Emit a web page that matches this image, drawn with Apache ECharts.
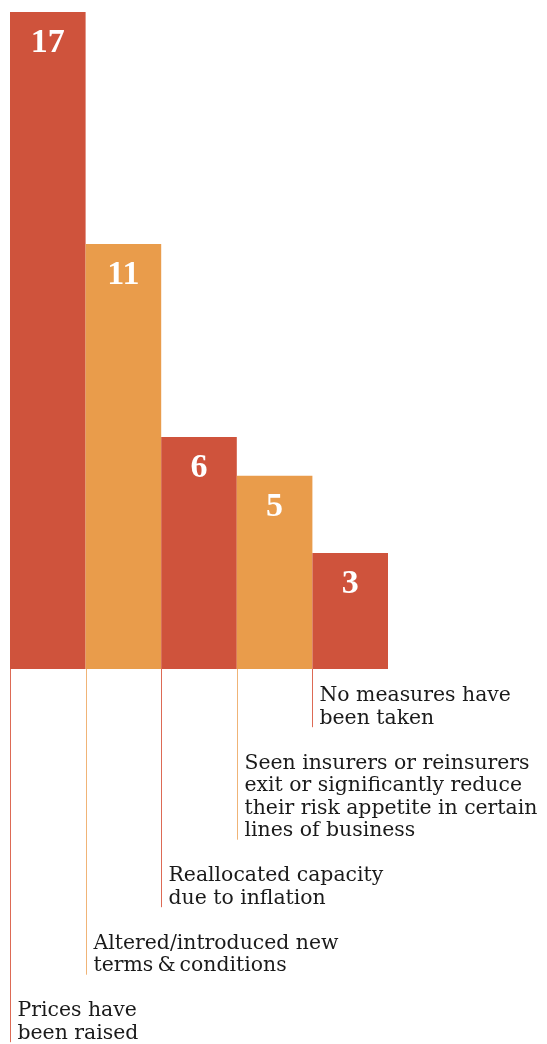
<!DOCTYPE html>
<html>
<head>
<meta charset="utf-8">
<script src="https://cdn.jsdelivr.net/npm/echarts@6/dist/echarts.min.js"></script>
<style>
html,body{margin:0;padding:0;background:#fff;}
#chart{width:547px;height:1044px;}
</style>
</head>
<body>
<div id="chart"></div>
<script>
// ---- data ----
var categories = [
  'Prices have\nbeen raised',
  'Altered/introduced new\nterms\u2009&\u2009conditions',
  'Reallocated capacity\ndue to inflation',
  'Seen insurers or reinsurers\nexit or significantly reduce\ntheir risk appetite in certain\nlines of business',
  'No measures have\nbeen taken'
];
var values = [17, 11, 6, 5, 3];

// ---- styles / layout ----
var RED = '#CF533C', ORANGE = '#E99C4B';
var RED_LINE = '#DD6A55', ORANGE_LINE = '#F0B477';
var LH = 22.5;           // label line height
var FIRST_DROP = 32.7;   // first baseline of last label below axis
var FONT_SIZE = 20.4;
var BASE_FROM_TOP = 17.2; // baseline offset inside first line box

function colorOf(i) { return i % 2 === 0 ? RED : ORANGE; }
function lineColorOf(i) { return i % 2 === 0 ? RED_LINE : ORANGE_LINE; }

// staircase of labels: last category highest, each next one 2 lines lower
var drops = new Array(categories.length);
(function () {
  var d = FIRST_DROP;
  for (var i = categories.length - 1; i >= 0; i--) {
    drops[i] = d;
    var n = categories[i].split('\n').length;
    d = d + (n - 1) * LH + 2 * LH;
  }
})();

var chart = echarts.init(document.getElementById('chart'), null, {renderer: 'canvas'});
chart.setOption({
  animation: false,
  grid: {left: 10, right: 159, top: 12, bottom: 375, containLabel: false},
  xAxis: {
    type: 'category', data: categories, show: false,
    boundaryGap: true
  },
  yAxis: {type: 'value', min: 0, max: 17, show: false},
  series: [
    {
      type: 'bar',
      barCategoryGap: 0,
      barGap: 0,
      data: values.map(function (v, i) {
        return {value: v, itemStyle: {color: colorOf(i)}};
      }),
      label: {
        show: true,
        position: 'insideTop',
        distance: 14,
        color: '#fff',
        fontFamily: '"Liberation Serif", serif',
        fontWeight: 'bold',
        fontSize: 34
      }
    },
    {
      type: 'custom',
      clip: false,
      silent: true,
      data: categories.map(function (c, i) { return [i]; }),
      renderItem: function (params, api) {
        var i = api.value(0);
        var p = api.coord([i, 0]);
        var band = api.size([1, 0])[0];
        var left = Math.round(p[0] - band / 2) + 0.5;
        var n = categories[i].split('\n').length;
        var firstBase = p[1] + drops[i];
        var end = firstBase + (n - 1) * LH + 3;
        return {
          type: 'group',
          children: [
            {
              type: 'line',
              shape: {x1: left, y1: p[1], x2: left, y2: end},
              style: {stroke: lineColorOf(i), lineWidth: 1}
            },
            {
              type: 'text',
              x: left + 7,
              y: firstBase - BASE_FROM_TOP,
              style: {
                text: categories[i],
                fill: '#1a1a1a',
                font: FONT_SIZE + 'px "DejaVu Serif", serif',
                lineHeight: LH,
                verticalAlign: 'top',
                align: 'left'
              }
            }
          ]
        };
      }
    }
  ]
});
</script>
</body>
</html>
